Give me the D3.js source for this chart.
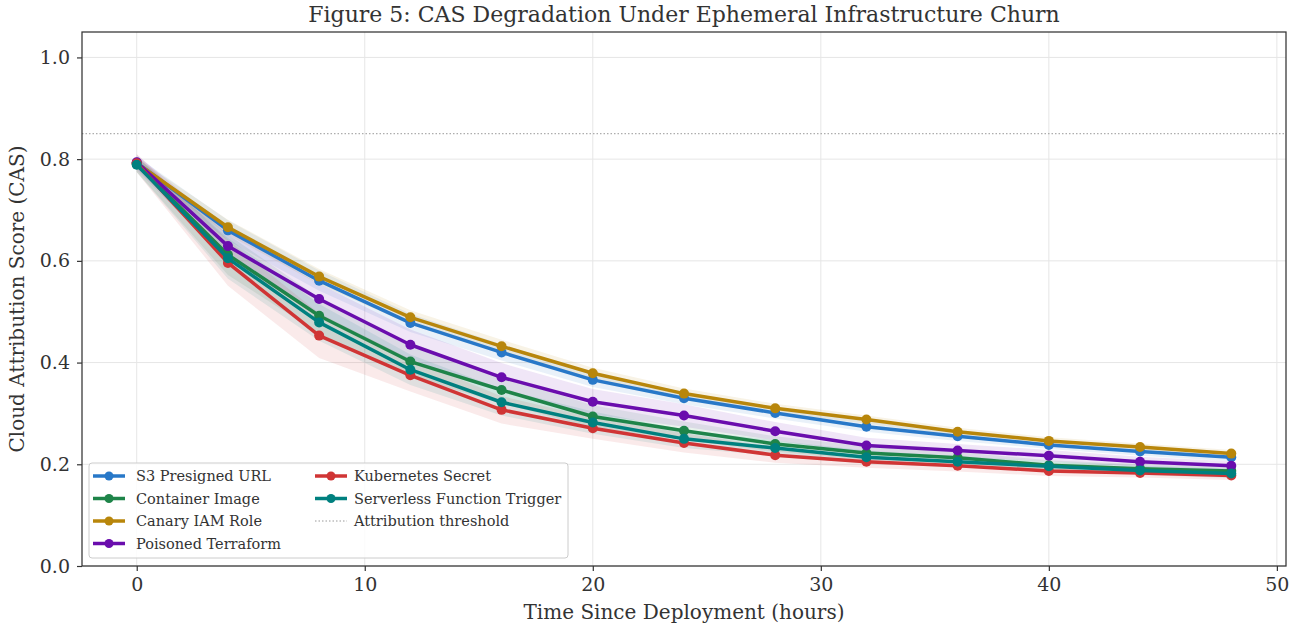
<!DOCTYPE html>
<html lang="en">
<head>
<meta charset="utf-8">
<title>CAS Degradation</title>
<script src="https://d3js.org/d3.v7.min.js"></script>
<style>
  body { margin: 0; background: #fff; }
  text { font-family: "DejaVu Serif", serif; fill: #333; }
</style>
</head>
<body>
<svg id="chart" width="1300" height="626"></svg>
<script>

// hours since deployment
var hours = [0, 4, 8, 12, 16, 20, 24, 28, 32, 36, 40, 44, 48];

var s3Url      = [0.793, 0.660, 0.561, 0.478, 0.420, 0.366, 0.330, 0.301, 0.274, 0.255, 0.238, 0.225, 0.214];
var container  = [0.790, 0.612, 0.492, 0.402, 0.346, 0.294, 0.266, 0.240, 0.222, 0.213, 0.198, 0.191, 0.187];
var canaryIam  = [0.792, 0.666, 0.569, 0.489, 0.432, 0.379, 0.339, 0.310, 0.288, 0.264, 0.246, 0.234, 0.221];
var terraform  = [0.794, 0.629, 0.525, 0.435, 0.371, 0.323, 0.296, 0.265, 0.237, 0.227, 0.217, 0.205, 0.197];
var k8sSecret  = [0.792, 0.596, 0.453, 0.375, 0.307, 0.271, 0.242, 0.218, 0.205, 0.197, 0.187, 0.183, 0.178];
var serverless = [0.789, 0.605, 0.479, 0.386, 0.322, 0.282, 0.250, 0.232, 0.214, 0.205, 0.196, 0.188, 0.182];

// spread of the shaded band around each line
var s3Sd         = [0.012, 0.020, 0.020, 0.018, 0.016, 0.014, 0.012, 0.011, 0.010, 0.009, 0.008, 0.008, 0.008];
var containerSd  = [0.015, 0.040, 0.035, 0.030, 0.026, 0.022, 0.018, 0.015, 0.013, 0.011, 0.010, 0.009, 0.009];
var canarySd     = [0.010, 0.015, 0.015, 0.014, 0.013, 0.011, 0.010, 0.009, 0.008, 0.008, 0.007, 0.007, 0.007];
var terraformSd  = [0.015, 0.030, 0.030, 0.030, 0.028, 0.025, 0.022, 0.018, 0.015, 0.013, 0.011, 0.010, 0.009];
var k8sSd        = [0.018, 0.045, 0.044, 0.032, 0.027, 0.021, 0.019, 0.015, 0.012, 0.011, 0.010, 0.009, 0.009];
var serverlessSd = [0.015, 0.040, 0.036, 0.030, 0.026, 0.022, 0.018, 0.015, 0.013, 0.011, 0.010, 0.009, 0.009];

var names  = ["S3 Presigned URL", "Container Image", "Canary IAM Role", "Poisoned Terraform", "Kubernetes Secret", "Serverless Function Trigger"];
var colors = ["#2878c8", "#1e8449", "#b8860b", "#6a0dad", "#d03535", "#00807f"];

var xTicks = [0, 10, 20, 30, 40, 50];
var yTicks = [0.0, 0.2, 0.4, 0.6, 0.8, 1.0];
var threshold = 0.85;

var series = [
  {name: names[0], values: s3Url, sd: s3Sd, color: colors[0]},
  {name: names[1], values: container, sd: containerSd, color: colors[1]},
  {name: names[2], values: canaryIam, sd: canarySd, color: colors[2]},
  {name: names[3], values: terraform, sd: terraformSd, color: colors[3]},
  {name: names[4], values: k8sSecret, sd: k8sSd, color: colors[4]},
  {name: names[5], values: serverless, sd: serverlessSd, color: colors[5]}
];

var svg = d3.select("#chart");
var pLeft = 82, pRight = 1286, pTop = 32, pBottom = 566;

var x = d3.scaleLinear().domain([-2.4, 50.4]).range([pLeft, pRight]);
var y = d3.scaleLinear().domain([0, 1.05]).range([pBottom, pTop]);

// grid
var grid = svg.append("g");
grid.selectAll(".gx").data(xTicks).enter().append("line")
    .attr("x1", function(d) { return x(d); }).attr("x2", function(d) { return x(d); })
    .attr("y1", pTop).attr("y2", pBottom)
    .attr("stroke", "#e6e6e6").attr("stroke-width", 1);
grid.selectAll(".gy").data(yTicks).enter().append("line")
    .attr("x1", pLeft).attr("x2", pRight)
    .attr("y1", function(d) { return y(d); }).attr("y2", function(d) { return y(d); })
    .attr("stroke", "#e6e6e6").attr("stroke-width", 1);

// bands
var area = d3.area()
    .x(function(d) { return x(d.h); })
    .y0(function(d) { return y(d.v - d.s); })
    .y1(function(d) { return y(d.v + d.s); });

series.forEach(function(s) {
  var pts = hours.map(function(h, i) { return {h: h, v: s.values[i], s: s.sd[i]}; });
  svg.append("path").datum(pts)
      .attr("d", area)
      .attr("fill", s.color).attr("fill-opacity", 0.1);
});

// threshold line
svg.append("line")
    .attr("x1", pLeft).attr("x2", pRight)
    .attr("y1", y(threshold)).attr("y2", y(threshold))
    .attr("stroke", "#999").attr("stroke-width", 1)
    .attr("stroke-dasharray", "1.5,2");

// lines + markers
var line = d3.line()
    .x(function(d) { return x(d.h); })
    .y(function(d) { return y(d.v); });

series.forEach(function(s) {
  var pts = hours.map(function(h, i) { return {h: h, v: s.values[i]}; });
  svg.append("path").datum(pts)
      .attr("d", line)
      .attr("fill", "none").attr("stroke", s.color)
      .attr("stroke-width", 3.5).attr("stroke-linejoin", "round");
  svg.append("g").selectAll("circle").data(pts).enter().append("circle")
      .attr("cx", function(d) { return x(d.h); })
      .attr("cy", function(d) { return y(d.v); })
      .attr("r", 5).attr("fill", s.color);
});

// axes
var xAxis = svg.append("g").attr("transform", "translate(0," + pBottom + ")")
    .call(d3.axisBottom(x).tickValues(xTicks).tickSize(5).tickPadding(7).tickFormat(d3.format("d")));
var yAxis = svg.append("g").attr("transform", "translate(" + pLeft + ",0)")
    .call(d3.axisLeft(y).tickValues(yTicks).tickSize(5).tickPadding(7).tickFormat(d3.format(".1f")));
[xAxis, yAxis].forEach(function(a) {
  a.select(".domain").remove();
  a.selectAll(".tick line").attr("stroke", "#333").attr("stroke-width", 1.2);
  a.selectAll(".tick text").style("font-family", "DejaVu Serif").style("font-size", "19px").attr("fill", "#333");
});

// frame
svg.append("rect")
    .attr("x", pLeft).attr("y", pTop)
    .attr("width", pRight - pLeft).attr("height", pBottom - pTop)
    .attr("fill", "none").attr("stroke", "#333").attr("stroke-width", 1.25);

// labels
svg.append("text").attr("x", (pLeft + pRight) / 2).attr("y", 22)
    .attr("text-anchor", "middle").style("font-size", "22px").attr("fill", "#222")
    .text("Figure 5: CAS Degradation Under Ephemeral Infrastructure Churn");
svg.append("text").attr("x", (pLeft + pRight) / 2).attr("y", 619)
    .attr("text-anchor", "middle").style("font-size", "20px")
    .text("Time Since Deployment (hours)");
svg.append("text")
    .attr("transform", "translate(24," + ((pTop + pBottom) / 2) + ") rotate(-90)")
    .attr("text-anchor", "middle").style("font-size", "20px")
    .text("Cloud Attribution Score (CAS)");

// legend
var lg = svg.append("g").attr("transform", "translate(89,463)");
lg.append("rect").attr("width", 479).attr("height", 95).attr("rx", 3)
    .attr("fill", "#fff").attr("fill-opacity", 0.85)
    .attr("stroke", "#ccc").attr("stroke-width", 1);

var items = series.map(function(s) { return {name: s.name, color: s.color, dotted: false}; });
items.push({name: "Attribution threshold", color: "#999", dotted: true});

items.forEach(function(it, i) {
  var col = i < 4 ? 0 : 1;
  var row = i < 4 ? i : i - 4;
  var g = lg.append("g").attr("transform", "translate(" + (col === 0 ? 4 : 226) + "," + (13 + row * 22.5) + ")");
  if (it.dotted) {
    g.append("line").attr("x1", 0).attr("x2", 32).attr("stroke", it.color)
        .attr("stroke-width", 1).attr("stroke-dasharray", "1.5,2");
  } else {
    g.append("line").attr("x1", 0).attr("x2", 32).attr("stroke", it.color).attr("stroke-width", 3.5);
    g.append("circle").attr("cx", 16).attr("r", 4.5).attr("fill", it.color);
  }
  g.append("text").attr("x", col === 0 ? 43 : 39).attr("y", 5)
      .style("font-size", "14.5px").attr("fill", "#333").text(it.name);
});

</script>
</body>
</html>
